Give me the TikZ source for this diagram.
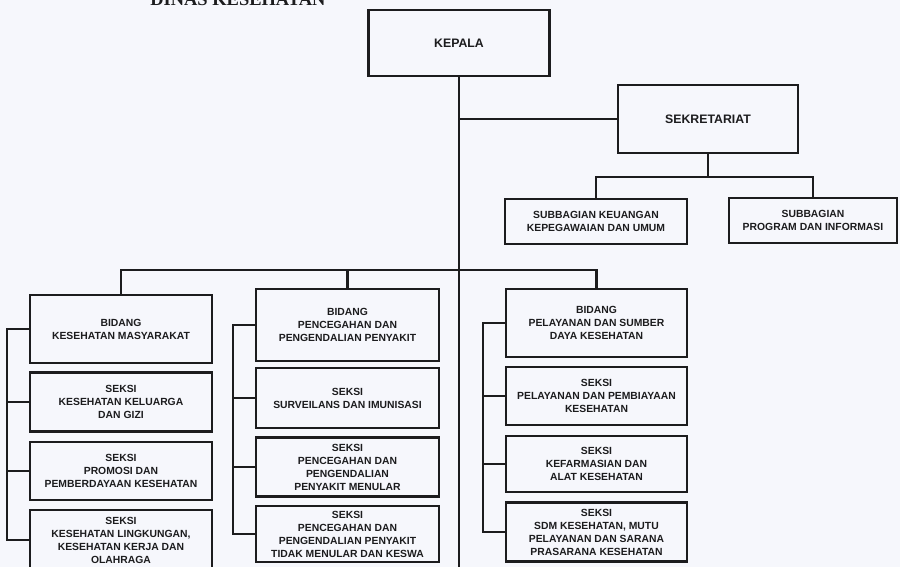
\documentclass[tikz,border=0pt]{standalone}
\usepackage{fontspec}
\setmainfont{Liberation Sans}
\newfontfamily\titlefont{Liberation Serif}
\usepackage{tikz}
\usetikzlibrary{positioning}
\usepackage{xcolor}
\definecolor{paper}{RGB}{246,247,252}
\definecolor{ink}{RGB}{28,28,30}
\tikzstyle{head} = [draw=ink, line width=1.2pt, align=center, text=ink, font=\bfseries\fontsize{7}{8.6}\selectfont]
\tikzstyle{unit} = [draw=ink, line width=1.2pt, align=center, text=ink, inner sep=1pt, font=\bfseries\fontsize{5.9}{7.4}\selectfont]
\tikzstyle{link} = [draw=ink, line width=1.2pt]

\begin{document}
\begin{tikzpicture}[x=0.2mm,y=-0.2mm]
% Page
\fill[paper] (0,0) rectangle (900,567);
\useasboundingbox (0,0) rectangle (900,567);

% Title, cut by the top edge
\node[anchor=base west, inner sep=0pt, text=ink, font=\titlefont\bfseries\fontsize{10.5}{12}\selectfont] (title) at (150,6) {DINAS KESEHATAN};

% Head and secretariat
\node[head, minimum width=36.2mm, minimum height=13.2mm] (kepala) at (459,43) {KEPALA};
\node[head, minimum width=36mm, minimum height=13.6mm] (sekretariat) at (708,119) {SEKRETARIAT};
\node[unit, minimum width=36.4mm, minimum height=9mm] (keuangan) at (596,221.5) {SUBBAGIAN KEUANGAN\\KEPEGAWAIAN DAN UMUM};
\node[unit, minimum width=33.6mm, minimum height=9mm] (program) at (813,220.5) {SUBBAGIAN\\PROGRAM DAN INFORMASI};

% Bidang Kesehatan Masyarakat
\node[unit, minimum width=36.4mm, minimum height=13.6mm] (bidangA) at (121,329) {BIDANG\\KESEHATAN MASYARAKAT};
\node[unit, minimum width=36.4mm, minimum height=11.8mm] (seksiA1) at (121,402) {SEKSI\\KESEHATAN KELUARGA\\DAN GIZI};
\node[unit, minimum width=36.4mm, minimum height=11.6mm] (seksiA2) at (121,471) {SEKSI\\PROMOSI DAN\\PEMBERDAYAAN KESEHATAN};
\node[unit, minimum width=36.4mm, minimum height=12mm] (seksiA3) at (121,540) {SEKSI\\KESEHATAN LINGKUNGAN,\\KESEHATAN KERJA DAN\\OLAHRAGA};

% Bidang Pencegahan dan Pengendalian Penyakit
\node[unit, minimum width=36.6mm, minimum height=14.4mm] (bidangB) at (347.5,325) {BIDANG\\PENCEGAHAN DAN\\PENGENDALIAN PENYAKIT};
\node[unit, minimum width=36.6mm, minimum height=12mm] (seksiB1) at (347.5,398) {SEKSI\\SURVEILANS DAN IMUNISASI};
\node[unit, minimum width=36.6mm, minimum height=11.8mm] (seksiB2) at (347.5,467) {SEKSI\\PENCEGAHAN DAN\\PENGENDALIAN\\PENYAKIT MENULAR};
\node[unit, minimum width=36.6mm, minimum height=11.2mm] (seksiB3) at (347.5,534) {SEKSI\\PENCEGAHAN DAN\\PENGENDALIAN PENYAKIT\\TIDAK MENULAR DAN KESWA};

% Bidang Pelayanan dan Sumber Daya Kesehatan
\node[unit, minimum width=36.2mm, minimum height=13.6mm] (bidangC) at (596.5,323) {BIDANG\\PELAYANAN DAN SUMBER\\DAYA KESEHATAN};
\node[unit, minimum width=36.2mm, minimum height=11.6mm] (seksiC1) at (596.5,396) {SEKSI\\PELAYANAN DAN PEMBIAYAAN\\KESEHATAN};
\node[unit, minimum width=36.2mm, minimum height=11.2mm] (seksiC2) at (596.5,464) {SEKSI\\KEFARMASIAN DAN\\ALAT KESEHATAN};
\node[unit, minimum width=36.2mm, minimum height=11.8mm] (seksiC3) at (596.5,532) {SEKSI\\SDM KESEHATAN, MUTU\\PELAYANAN DAN SARANA\\PRASARANA KESEHATAN};

% Lines from the head
\coordinate (bus) at (0,270);
\draw[link] (kepala.south) -- (kepala.south |- 0,567);
\draw[link] (sekretariat.west) -- (sekretariat.west -| kepala.south);
\draw[link] (sekretariat.south) -- ++(0,23) coordinate (sekbus);
\draw[link] (keuangan.north) |- (sekbus) -| (program.north);
\draw[link] (bidangA.north) -- (bidangA.north |- bus) -- (bidangC.north |- bus) -- (bidangC.north);
\draw[link] (bidangB.north) -- (bidangB.north |- bus);

% Side rails of the bidang
\draw[link] (bidangA.west) -- ++(-22,0) coordinate (railA) |- (seksiA3.west);
\draw[link] (seksiA1.west) -- (seksiA1.west -| railA);
\draw[link] (seksiA2.west) -- (seksiA2.west -| railA);
\draw[link] (bidangB.west) -- ++(-22,0) coordinate (railB) |- (seksiB3.west);
\draw[link] (seksiB1.west) -- (seksiB1.west -| railB);
\draw[link] (seksiB2.west) -- (seksiB2.west -| railB);
\draw[link] (bidangC.west) -- ++(-22,0) coordinate (railC) |- (seksiC3.west);
\draw[link] (seksiC1.west) -- (seksiC1.west -| railC);
\draw[link] (seksiC2.west) -- (seksiC2.west -| railC);
\end{tikzpicture}
\end{document}
